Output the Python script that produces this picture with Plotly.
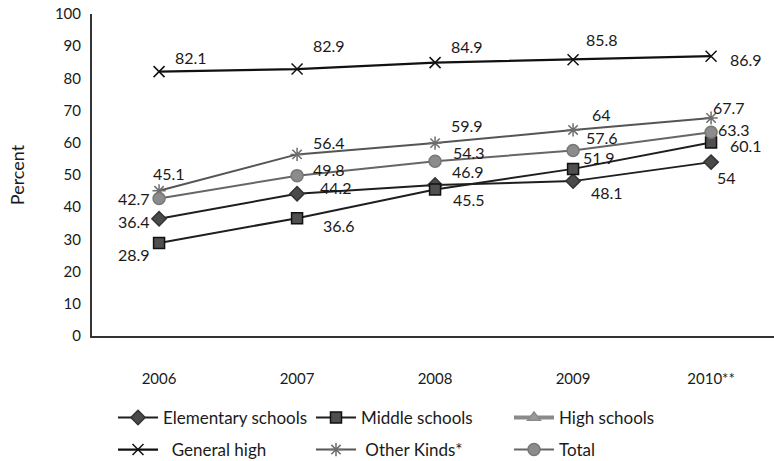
import plotly.graph_objects as go

years = ["2006", "2007", "2008", "2009", "2010**"]
elementary = [36.4, 44.2, 46.9, 48.1, 54]
middle = [28.9, 36.6, 45.5, 51.9, 60.1]
high = [None, None, None, None, None]
general_high = [82.1, 82.9, 84.9, 85.8, 86.9]
other_kinds = [45.1, 56.4, 59.9, 64, 67.7]
total = [42.7, 49.8, 54.3, 57.6, 63.3]
y_ticks = [0, 10, 20, 30, 40, 50, 60, 70, 80, 90, 100]

# label offsets in pixels (dx right, dy down) for each point
off_general = [(32, -14), (32, -24), (32, -16), (29, -20), (35, 3)]
off_other = [(10, -17), (32, -12), (32, -18), (28, -15), (18, -11)]
off_total = [(-25, 0), (32, -6), (34, -9), (29, -13), (23, -3)]
off_elem = [(-25, 3), (39, -6), (33, -13), (34, 11), (15, 15)]
off_middle = [(-25, 12), (42, 7), (34, 10), (26, -11), (35, 3)]

FONT = "Lato"
xs = list(range(len(years)))

fig = go.Figure()

def add(name, vals, line_color, width, symbol, msize, mfill, mline, legend):
    fig.add_trace(go.Scatter(
        x=xs, y=vals, name=name, mode="lines+markers", legend=legend,
        line=dict(color=line_color, width=width),
        marker=dict(symbol=symbol, size=msize, color=mfill,
                    line=dict(color=mline, width=1.5)),
        cliponaxis=False,
    ))

add("Elementary schools", elementary, "#1e1e1e", 2, "diamond", 11, "#4a4a4a", "#333333", "legend")
add("Middle schools", middle, "#1e1e1e", 2, "square", 11, "#4f4f4f", "#111111", "legend")
add("High schools", high, "#8a8a8a", 4, "triangle-up", 11, "#9a9a9a", "#8a8a8a", "legend")
add("\u00a0\u00a0General high", general_high, "#111111", 2.2, "x-thin-open", 11, "#111111", "#111111", "legend2")
add("\u00a0Other Kinds*", other_kinds, "#555555", 2, "asterisk-open", 11, "#6e6e6e", "#6e6e6e", "legend2")
add("Total", total, "#666666", 2, "circle", 12, "#8c8c8c", "#777777", "legend2")

for vals, offs in [(general_high, off_general), (other_kinds, off_other),
                   (total, off_total), (elementary, off_elem), (middle, off_middle)]:
    for i, v in enumerate(vals):
        dx, dy = offs[i]
        fig.add_annotation(x=xs[i], y=v, text=str(v), showarrow=False,
                           xshift=dx, yshift=-dy,
                           font=dict(family=FONT, size=16, color="#1a1a1a"))

legend_common = dict(orientation="h", xanchor="left", yanchor="middle",
                     xref="container", yref="container",
                     font=dict(family=FONT, size=17, color="#1a1a1a"),
                     bgcolor="rgba(0,0,0,0)", entrywidthmode="pixels",
                     entrywidth=143, itemwidth=40, tracegroupgap=0)

fig.update_layout(
    width=774, height=461,
    margin=dict(l=92, r=0, t=14, b=125, autoexpand=False),
    paper_bgcolor="white", plot_bgcolor="white",
    showlegend=True,
    legend=dict(x=113 / 774, y=1 - 418 / 461, **legend_common),
    legend2=dict(x=113 / 774, y=1 - 450 / 461, **legend_common),
    xaxis=dict(
        range=[-0.486, 4.456], tickmode="array", tickvals=xs, ticktext=years,
        showgrid=False, zeroline=False, showline=True, linecolor="#333333",
        linewidth=2, ticks="", ticklabelstandoff=28,
        tickfont=dict(family=FONT, size=15, color="#1a1a1a"),
    ),
    yaxis=dict(
        range=[0, 100], tickmode="array", tickvals=y_ticks,
        showgrid=False, zeroline=False, showline=True, linecolor="#333333",
        linewidth=2, ticks="", ticklabelstandoff=6,
        tickfont=dict(family=FONT, size=15, color="#1a1a1a"),
        title=dict(text="Percent", font=dict(family=FONT, size=18, color="#1a1a1a"),
                   standoff=26),
    ),
)

fig.write_html("out.html")
